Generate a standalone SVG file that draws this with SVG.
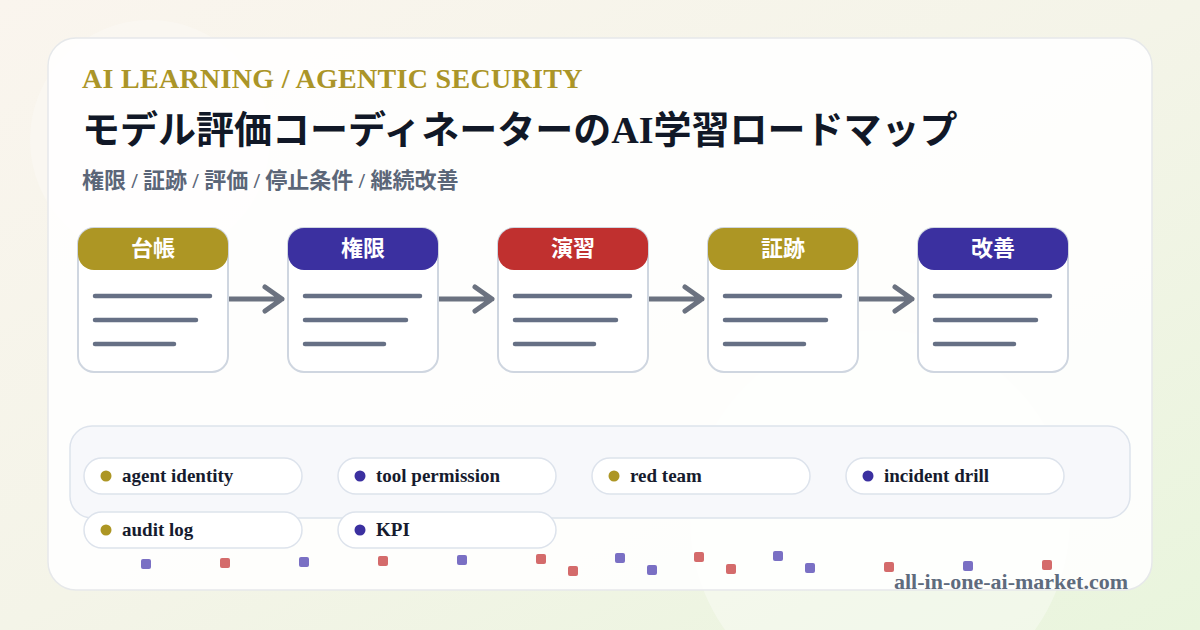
<svg xmlns="http://www.w3.org/2000/svg" width="1200" height="630" viewBox="0 0 1200 630">
<defs>
<linearGradient id="bg" x1="0" y1="0" x2="1" y2="1">
<stop offset="0" stop-color="#faf5ee"/>
<stop offset="0.5" stop-color="#f4f4e8"/>
<stop offset="1" stop-color="#e9f5dd"/>
</linearGradient>
<style>
.serif{font-family:"Liberation Serif","Noto Sans CJK JP",serif;font-weight:bold}
.card{fill:#ffffff;stroke:#cfd6e0;stroke-width:2}
.hdr{font-family:"Liberation Serif","Noto Sans CJK JP",serif;font-weight:bold;font-size:22px;fill:#ffffff;text-anchor:middle}
.ln{stroke:#667085;stroke-width:4.5;stroke-linecap:round}
.arrow{stroke:#6b7280;stroke-width:5;stroke-linecap:round;stroke-linejoin:round;fill:none}
.pill{fill:#ffffff;stroke:#dde3ec;stroke-width:1.5}
.ptxt{font-family:"Liberation Serif","Noto Sans CJK JP",serif;font-weight:bold;font-size:19px;fill:#161b2e}
.gold{fill:#ad9624}
.ind{fill:#3b30a0}
.sqp{fill:#7a70c4}
.sqr{fill:#d46b6b}
</style>
</defs>
<rect width="1200" height="630" fill="url(#bg)"/>
<circle cx="150" cy="140" r="120" fill="#ffffff" opacity="0.25"/>
<circle cx="880" cy="520" r="190" fill="#ffffff" opacity="0.35"/>
<rect x="48" y="38" width="1104" height="552" rx="28" fill="#ffffff" fill-opacity="0.88" stroke="#e6e8ea" stroke-width="1.5"/>

<g id="header-text">
<text class="serif" x="82" y="88" font-size="28" fill="#ab9528" letter-spacing="0.3">AI LEARNING / AGENTIC SECURITY</text>
<text class="serif" x="82" y="143" font-size="38" fill="#111827">モデル評価コーディネーターのAI学習ロードマップ</text>
<text class="serif" x="82" y="188" font-size="22" fill="#5b6678">権限 / 証跡 / 評価 / 停止条件 / 継続改善</text>
</g>

<g id="connectors">
<path class="arrow" d="M229,299 H282 M265,287 L282,299 L265,311"/>
<path class="arrow" d="M439,299 H492 M475,287 L492,299 L475,311"/>
<path class="arrow" d="M649,299 H702 M685,287 L702,299 L685,311"/>
<path class="arrow" d="M859,299 H912 M895,287 L912,299 L895,311"/>
</g>

<g id="node-daicho">
<rect class="card" x="78" y="228" width="150" height="144" rx="16"/>
<rect x="78" y="228" width="150" height="42" rx="16" class="gold"/>
<text class="hdr" x="153" y="256">台帳</text>
<line class="ln" x1="95" y1="296" x2="210" y2="296"/>
<line class="ln" x1="95" y1="320" x2="196" y2="320"/>
<line class="ln" x1="95" y1="344" x2="174" y2="344"/>
</g>
<g id="node-kengen">
<rect class="card" x="288" y="228" width="150" height="144" rx="16"/>
<rect x="288" y="228" width="150" height="42" rx="16" class="ind"/>
<text class="hdr" x="363" y="256">権限</text>
<line class="ln" x1="305" y1="296" x2="420" y2="296"/>
<line class="ln" x1="305" y1="320" x2="406" y2="320"/>
<line class="ln" x1="305" y1="344" x2="384" y2="344"/>
</g>
<g id="node-enshu">
<rect class="card" x="498" y="228" width="150" height="144" rx="16"/>
<rect x="498" y="228" width="150" height="42" rx="16" fill="#c0302f"/>
<text class="hdr" x="573" y="256">演習</text>
<line class="ln" x1="515" y1="296" x2="630" y2="296"/>
<line class="ln" x1="515" y1="320" x2="616" y2="320"/>
<line class="ln" x1="515" y1="344" x2="594" y2="344"/>
</g>
<g id="node-shoseki">
<rect class="card" x="708" y="228" width="150" height="144" rx="16"/>
<rect x="708" y="228" width="150" height="42" rx="16" class="gold"/>
<text class="hdr" x="783" y="256">証跡</text>
<line class="ln" x1="725" y1="296" x2="840" y2="296"/>
<line class="ln" x1="725" y1="320" x2="826" y2="320"/>
<line class="ln" x1="725" y1="344" x2="804" y2="344"/>
</g>
<g id="node-kaizen">
<rect class="card" x="918" y="228" width="150" height="144" rx="16"/>
<rect x="918" y="228" width="150" height="42" rx="16" class="ind"/>
<text class="hdr" x="993" y="256">改善</text>
<line class="ln" x1="935" y1="296" x2="1050" y2="296"/>
<line class="ln" x1="935" y1="320" x2="1036" y2="320"/>
<line class="ln" x1="935" y1="344" x2="1014" y2="344"/>
</g>

<g id="tags">
<rect x="70" y="426" width="1060" height="92" rx="22" fill="#f7f8fb" stroke="#dde3ec" stroke-width="1.5"/>
<g id="tag-agent-identity"><rect class="pill" x="84" y="458" width="218" height="36" rx="18"/><circle class="gold" cx="106" cy="476" r="5.5"/><text class="ptxt" x="122" y="482">agent identity</text></g>
<g id="tag-tool-permission"><rect class="pill" x="338" y="458" width="218" height="36" rx="18"/><circle class="ind" cx="360" cy="476" r="5.5"/><text class="ptxt" x="376" y="482">tool permission</text></g>
<g id="tag-red-team"><rect class="pill" x="592" y="458" width="218" height="36" rx="18"/><circle class="gold" cx="614" cy="476" r="5.5"/><text class="ptxt" x="630" y="482">red team</text></g>
<g id="tag-incident-drill"><rect class="pill" x="846" y="458" width="218" height="36" rx="18"/><circle class="ind" cx="868" cy="476" r="5.5"/><text class="ptxt" x="884" y="482">incident drill</text></g>
<g id="tag-audit-log"><rect class="pill" x="84" y="512" width="218" height="36" rx="18"/><circle class="gold" cx="106" cy="530" r="5.5"/><text class="ptxt" x="122" y="536">audit log</text></g>
<g id="tag-kpi"><rect class="pill" x="338" y="512" width="218" height="36" rx="18"/><circle class="ind" cx="360" cy="530" r="5.5"/><text class="ptxt" x="376" y="536">KPI</text></g>
</g>

<g id="dots">
<rect class="sqp" x="141" y="559" width="10" height="10" rx="2"/>
<rect class="sqr" x="220" y="558" width="10" height="10" rx="2"/>
<rect class="sqp" x="299" y="557" width="10" height="10" rx="2"/>
<rect class="sqr" x="378" y="556" width="10" height="10" rx="2"/>
<rect class="sqp" x="457" y="555" width="10" height="10" rx="2"/>
<rect class="sqr" x="536" y="554" width="10" height="10" rx="2"/>
<rect class="sqp" x="615" y="553" width="10" height="10" rx="2"/>
<rect class="sqr" x="694" y="552" width="10" height="10" rx="2"/>
<rect class="sqp" x="773" y="551" width="10" height="10" rx="2"/>
<rect class="sqr" x="568" y="566" width="10" height="10" rx="2"/>
<rect class="sqp" x="647" y="565" width="10" height="10" rx="2"/>
<rect class="sqr" x="726" y="564" width="10" height="10" rx="2"/>
<rect class="sqp" x="805" y="563" width="10" height="10" rx="2"/>
<rect class="sqr" x="884" y="562" width="10" height="10" rx="2"/>
<rect class="sqp" x="963" y="561" width="10" height="10" rx="2"/>
<rect class="sqr" x="1042" y="560" width="10" height="10" rx="2"/>
</g>

<text class="serif" x="1128" y="589" font-size="22" fill="#5f6b7d" text-anchor="end">all-in-one-ai-market.com</text>
</svg>
